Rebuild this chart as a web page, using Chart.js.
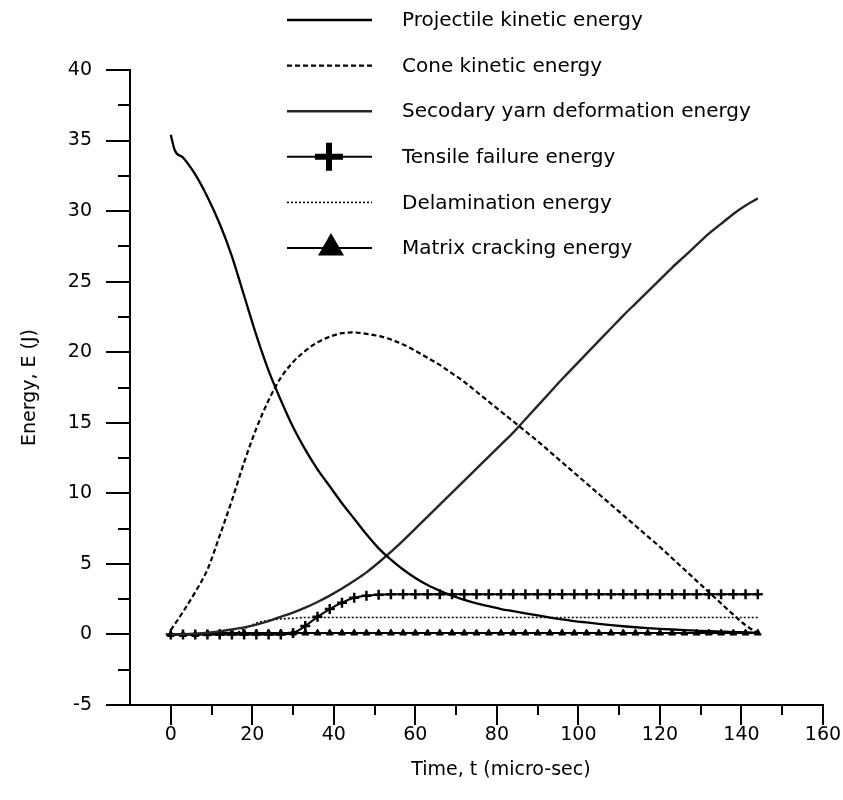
<!DOCTYPE html>
<html>
<head>
<meta charset="utf-8">
<script src="https://cdn.jsdelivr.net/npm/chart.js@4.4.1/dist/chart.umd.min.js"></script>
<style>
  html, body { margin: 0; padding: 0; background: #fff; }
  #wrap { width: 843px; height: 800px; }
</style>
</head>
<body>
<div id="wrap"><canvas id="energyChart" width="843" height="800"></canvas></div>
<script>
// ---- data (time in micro-sec, energy in J) ----
const TIME = [0, 3, 6, 9, 12, 15, 18, 21, 24, 27, 30, 33, 36, 39, 42, 45, 48, 51, 54, 57,
  60, 63, 66, 69, 72, 75, 78, 81, 84, 87, 90, 93, 96, 99, 102, 105, 108, 111, 114, 117,
  120, 123, 126, 129, 132, 135, 138, 141, 144];
const PROJ_TIME = [0, 1, 3, 6, 9, 12, 15, 18, 21, 24, 27, 30, 33, 36, 39, 42, 45, 48, 51, 54, 57,
  60, 63, 66, 69, 72, 75, 78, 81, 84, 87, 90, 93, 96, 99, 102, 105, 108, 111, 114, 117,
  120, 123, 126, 129, 132, 135, 138, 141, 144];

const PROJECTILE_KE = [35.4, 34.3, 33.8, 32.6, 31.0, 29.1, 26.8, 24.0, 21.2, 18.7, 16.6, 14.7, 13.1,
  11.7, 10.5, 9.3, 8.2, 7.1, 6.1, 5.3, 4.6, 4.0, 3.5, 3.1, 2.75, 2.45, 2.2, 2.0, 1.8, 1.65, 1.5,
  1.35, 1.2, 1.07, 0.95, 0.85, 0.75, 0.66, 0.58, 0.51, 0.45, 0.4, 0.35, 0.31, 0.27, 0.23, 0.2,
  0.17, 0.15, 0.12];
const CONE_KE = [0.3, 1.6, 3.0, 4.6, 7.0, 9.5, 12.2, 14.6, 16.6, 18.2, 19.3, 20.1, 20.7, 21.1,
  21.35, 21.4, 21.3, 21.15, 20.9, 20.55, 20.1, 19.6, 19.1, 18.5, 17.9, 17.2, 16.5, 15.8, 15.1,
  14.4, 13.7, 12.95, 12.2, 11.45, 10.7, 9.95, 9.2, 8.45, 7.7, 6.95, 6.2, 5.4, 4.6, 3.8, 3.0, 2.2,
  1.4, 0.65, 0.1];
const SECONDARY_YARN = [0, 0.02, 0.06, 0.12, 0.22, 0.35, 0.5, 0.7, 0.95, 1.25, 1.55, 1.9, 2.3,
  2.75, 3.25, 3.8, 4.4, 5.1, 5.85, 6.65, 7.5, 8.35, 9.2, 10.05, 10.9, 11.75, 12.6, 13.45, 14.3,
  15.25, 16.2, 17.15, 18.1, 19.0, 19.9, 20.8, 21.7, 22.6, 23.45, 24.3, 25.15, 26.0, 26.8, 27.6,
  28.4, 29.1, 29.8, 30.4, 30.9];
const TENSILE_FAILURE = [0, 0, 0, 0, 0, 0, 0, 0, 0, 0, 0.1, 0.6, 1.25, 1.8, 2.25, 2.6, 2.75, 2.82,
  2.85, 2.85, 2.85, 2.85, 2.85, 2.85, 2.85, 2.85, 2.85, 2.85, 2.85, 2.85, 2.85, 2.85, 2.85,
  2.85, 2.85, 2.85, 2.85, 2.85, 2.85, 2.85, 2.85, 2.85, 2.85, 2.85, 2.85, 2.85, 2.85, 2.85, 2.85];
const DELAMINATION = [0, 0, 0, 0, 0, 0, 0.4, 0.8, 1.0, 1.1, 1.15, 1.2, 1.2, 1.2, 1.2, 1.2, 1.2,
  1.2, 1.2, 1.2, 1.2, 1.2, 1.2, 1.2, 1.2, 1.2, 1.2, 1.2, 1.2, 1.2, 1.2, 1.2, 1.2, 1.2, 1.2,
  1.2, 1.2, 1.2, 1.2, 1.2, 1.2, 1.2, 1.2, 1.2, 1.2, 1.2, 1.2, 1.2, 1.2];
const MATRIX_CRACKING = [0, 0, 0, 0.05, 0.1, 0.1, 0.1, 0.1, 0.1, 0.1, 0.1, 0.1, 0.1, 0.1, 0.1,
  0.1, 0.1, 0.1, 0.1, 0.1, 0.1, 0.1, 0.1, 0.1, 0.1, 0.1, 0.1, 0.1, 0.1, 0.1, 0.1, 0.1, 0.1,
  0.1, 0.1, 0.1, 0.1, 0.1, 0.1, 0.1, 0.1, 0.1, 0.1, 0.1, 0.1, 0.1, 0.1, 0.1, 0.1];

const SERIES_LABELS = [
  'Projectile kinetic energy',
  'Cone kinetic energy',
  'Secodary yarn deformation energy',
  'Tensile failure energy',
  'Delamination energy',
  'Matrix cracking energy',
];
const X_TITLE = 'Time, t (micro-sec)';
const Y_TITLE = 'Energy, E (J)';

const FONT = "'DejaVu Sans', Verdana, sans-serif";
const INK = '#000';

const pts = (xs, ys) => ys.map((y, i) => ({ x: xs[i], y }));

// ---- custom ticks, titles and the in-plot legend ----
const decorPlugin = {
  id: 'decor',
  afterDraw(chart) {
    const { ctx, chartArea, scales: { x, y } } = chart;
    ctx.save();
    ctx.strokeStyle = INK;
    ctx.lineWidth = 2;
    // x ticks (down from the axis)
    x.ticks.forEach(t => {
      if (t.value < 0) return;
      const px = Math.round(x.getPixelForValue(t.value));
      const len = t.value % 20 === 0 ? 20 : 10;
      ctx.beginPath();
      ctx.moveTo(px, chartArea.bottom);
      ctx.lineTo(px, chartArea.bottom + len);
      ctx.stroke();
    });
    // y ticks (left from the axis)
    y.ticks.forEach(t => {
      const py = Math.round(y.getPixelForValue(t.value));
      const len = t.value % 5 === 0 ? 24 : 12;
      ctx.beginPath();
      ctx.moveTo(chartArea.left, py);
      ctx.lineTo(chartArea.left - len, py);
      ctx.stroke();
    });

    // axis titles
    ctx.fillStyle = INK;
    ctx.font = '19px ' + FONT;
    ctx.textAlign = 'center';
    ctx.textBaseline = 'middle';
    ctx.fillText(X_TITLE, x.getPixelForValue(81), 770);
    ctx.save();
    ctx.translate(30, y.getPixelForValue(17.5));
    ctx.rotate(-Math.PI / 2);
    ctx.fillText(Y_TITLE, 0, 0);
    ctx.restore();

    // legend
    const x0 = 287, x1 = 372, tx = 402;
    ctx.font = '20px ' + FONT;
    ctx.textAlign = 'left';
    chart.data.datasets.forEach((ds, i) => {
      const ly = 20 + i * 45.6;
      ctx.save();
      ctx.strokeStyle = ds.borderColor;
      ctx.lineWidth = ds.borderWidth;
      ctx.setLineDash(ds.borderDash || []);
      ctx.beginPath();
      ctx.moveTo(x0, ly);
      ctx.lineTo(x1, ly);
      ctx.stroke();
      ctx.setLineDash([]);
      if (ds.pointStyle === 'cross') {
        ctx.lineWidth = 6;
        Chart.helpers.drawPoint(ctx, { pointStyle: 'cross', radius: 14, borderWidth: 6, rotation: 0 }, 329, ly);
      } else if (ds.pointStyle === 'triangle') {
        ctx.fillStyle = INK;
        Chart.helpers.drawPoint(ctx, { pointStyle: 'triangle', radius: 13, borderWidth: 1, rotation: 0 }, 331, ly);
      }
      ctx.restore();
      ctx.fillStyle = INK;
      ctx.fillText(ds.label, tx, ly + 1);
    });
    ctx.restore();
  },
};

const lineBase = { fill: false, borderColor: INK, pointRadius: 0, cubicInterpolationMode: 'monotone' };

new Chart(document.getElementById('energyChart').getContext('2d'), {
  type: 'line',
  data: {
    datasets: [
      { ...lineBase, label: SERIES_LABELS[0], data: pts(PROJ_TIME, PROJECTILE_KE), borderWidth: 2.3 },
      { ...lineBase, label: SERIES_LABELS[1], data: pts(TIME, CONE_KE), borderWidth: 2.2, borderDash: [5, 3] },
      { ...lineBase, label: SERIES_LABELS[2], data: pts(TIME, SECONDARY_YARN), borderWidth: 2.4, borderColor: '#262626' },
      {
        ...lineBase, label: SERIES_LABELS[3], data: pts(TIME, TENSILE_FAILURE), borderWidth: 2,
        pointStyle: 'cross', pointRadius: 5, pointBorderWidth: 2.5, pointBorderColor: INK,
      },
      { ...lineBase, label: SERIES_LABELS[4], data: pts(TIME, DELAMINATION), borderWidth: 1.6, borderDash: [2, 2] },
      {
        ...lineBase, label: SERIES_LABELS[5], data: pts(TIME, MATRIX_CRACKING), borderWidth: 2,
        pointStyle: 'triangle', pointRadius: 4, pointBackgroundColor: INK, pointBorderColor: INK, pointBorderWidth: 1,
      },
    ],
  },
  options: {
    responsive: false,
    animation: false,
    layout: { padding: { top: 70, right: 20, left: 0, bottom: 0 } },
    plugins: { legend: { display: false }, tooltip: { enabled: false } },
    scales: {
      x: {
        type: 'linear', min: -10, max: 160,
        afterFit: s => { s.height = 95; s.paddingLeft = 0; s.paddingRight = 0; },
        grid: { display: false, drawTicks: false },
        border: { display: true, color: INK, width: 2 },
        ticks: {
          stepSize: 10, autoSkip: false, maxRotation: 0, padding: 19,
          color: INK, font: { family: FONT, size: 19 },
          callback: v => (v >= 0 && v % 20 === 0 ? v : ''),
        },
      },
      y: {
        type: 'linear', min: -5, max: 40,
        afterFit: s => { s.width = 130; s.paddingTop = 0; s.paddingBottom = 0; },
        grid: { display: false, drawTicks: false },
        border: { display: true, color: INK, width: 2 },
        ticks: {
          stepSize: 2.5, autoSkip: false, padding: 38,
          color: INK, font: { family: FONT, size: 19 },
          callback: v => (v % 5 === 0 ? v : ''),
        },
      },
    },
  },
  plugins: [decorPlugin],
});
</script>
</body>
</html>
